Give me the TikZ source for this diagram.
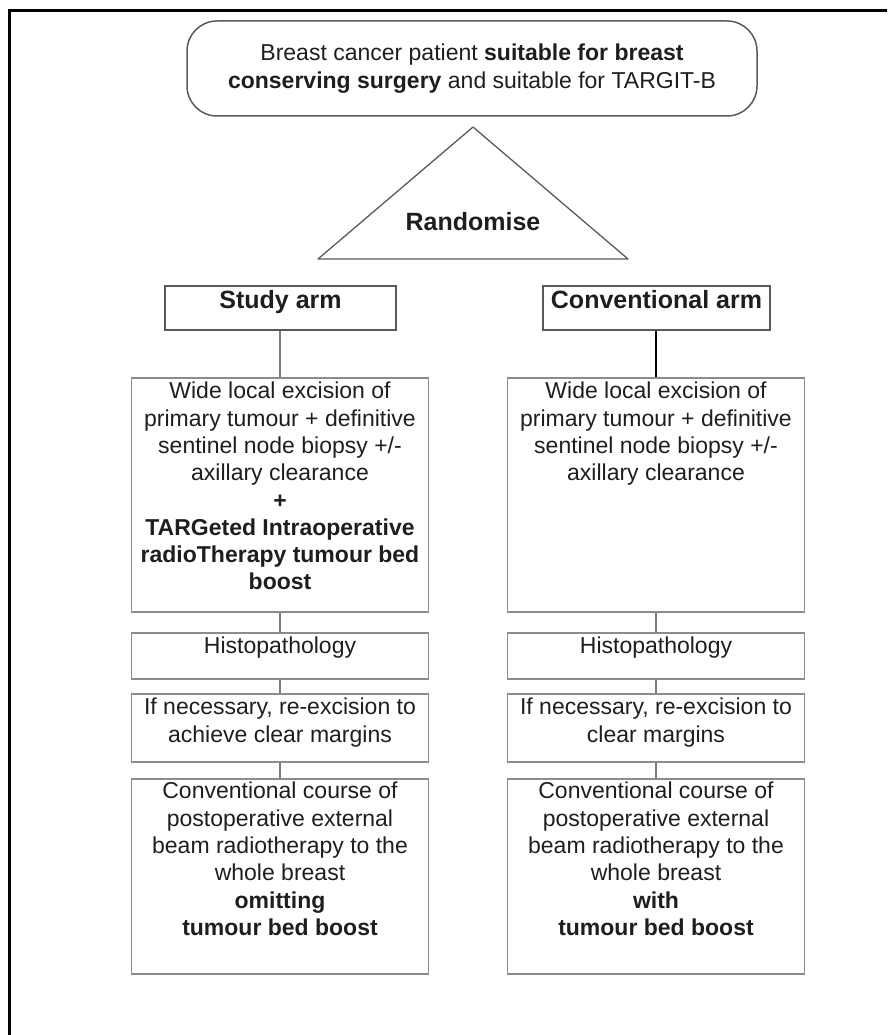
\documentclass[tikz,border=0pt]{standalone}
\usepackage{fontspec}
\setmainfont{Liberation Sans}
\usetikzlibrary{positioning}

\definecolor{boxgray}{HTML}{8C8C8C}
\definecolor{armgray}{HTML}{5A5A5A}
\definecolor{linkgray}{HTML}{7A7A7A}
\definecolor{inkgray}{HTML}{1E1E1E}

\tikzset{
  cellbox/.style={draw=boxgray, line width=1.5pt, minimum width=297pt, inner sep=0pt, anchor=north},
  armbox/.style={draw=armgray, line width=1.5pt, minimum height=44pt, inner sep=0pt, anchor=north},
  celltext/.style={inner sep=0pt, anchor=north, align=center, text=inkgray,
                   font=\fontsize{23}{27.3}\selectfont},
  armtext/.style={inner sep=0pt, anchor=north, text=inkgray,
                  font=\fontsize{25}{28}\selectfont\bfseries},
  link/.style={draw=linkgray, line width=1.5pt},
}

\begin{document}
\begin{tikzpicture}[x=1pt, y=-1pt]
    \useasboundingbox (0,0) rectangle (887,1035);
    \draw[line width=3pt] (9,1035) -- (9,11) -- (887,11);

    % patient and randomisation
    \node[draw=armgray, line width=1.5pt, rounded corners=30pt, minimum width=570pt,
          minimum height=95pt, align=center, text=inkgray,
          font=\fontsize{23}{27.3}\selectfont] (patient) at (472,68.5)
          {Breast cancer patient \textbf{suitable for breast}\\
           \textbf{conserving surgery} and suitable for TARGIT-B};
    \draw[draw=armgray, line width=1.3pt, line join=round] (318,259) -- (473,127) -- (628,259) -- cycle;
    \node[anchor=base, text=inkgray, font=\fontsize{25}{28}\selectfont\bfseries] (rand) at (473,230.5) {Randomise};

    % arm headings
    \node[armbox, minimum width=231pt] (studyarm) at (280.5,285) {};
    \node[armtext, below=5pt of studyarm.north] (studytxt) {Study arm};
    \node[armbox, minimum width=227pt] (convarm) at (656.5,285) {};
    \node[armtext, below=5pt of convarm.north] (convtxt) {Conventional arm};

    % study arm
    \node[cellbox, minimum height=234pt] (excL) at (280,377) {};
    \node[celltext, below=5pt of excL.north] (excLtxt) {Wide local excision of\\primary tumour + definitive\\sentinel node biopsy +/-\\axillary clearance\\\textbf{+}\\\textbf{TARGeted Intraoperative}\\\textbf{radioTherapy tumour bed}\\\textbf{boost}};
    \node[cellbox, minimum height=46pt] (histL) at (280,632) {};
    \node[celltext, below=5pt of histL.north] (histLtxt) {Histopathology};
    \node[cellbox, minimum height=68pt] (reexL) at (280,693) {};
    \node[celltext, below=5pt of reexL.north] (reexLtxt) {If necessary, re-excision to\\achieve clear margins};
    \node[cellbox, minimum height=195pt] (courseL) at (280,778) {};
    \node[celltext, below=4pt of courseL.north] (courseLtxt) {Conventional course of\\postoperative external\\beam radiotherapy to the\\whole breast\\\textbf{omitting}\\\textbf{tumour bed boost}};

    % conventional arm
    \node[cellbox, minimum height=234pt] (excR) at (656,377) {};
    \node[celltext, below=5pt of excR.north] (excRtxt) {Wide local excision of\\primary tumour + definitive\\sentinel node biopsy +/-\\axillary clearance};
    \node[cellbox, minimum height=46pt] (histR) at (656,632) {};
    \node[celltext, below=5pt of histR.north] (histRtxt) {Histopathology};
    \node[cellbox, minimum height=68pt] (reexR) at (656,693) {};
    \node[celltext, below=5pt of reexR.north] (reexRtxt) {If necessary, re-excision to\\clear margins};
    \node[cellbox, minimum height=195pt] (courseR) at (656,778) {};
    \node[celltext, below=4pt of courseR.north] (courseRtxt) {Conventional course of\\postoperative external\\beam radiotherapy to the\\whole breast\\\textbf{with}\\\textbf{tumour bed boost}};

    % connectors
    \draw[link] (studyarm.south -| excL.north) -- (excL.north);
    \draw[link, draw=black] (convarm.south -| excR.north) -- (excR.north);
    \draw[link] (excL.south) -- (histL.north);
    \draw[link] (histL.south) -- (reexL.north);
    \draw[link] (reexL.south) -- (courseL.north);
    \draw[link] (excR.south) -- (histR.north);
    \draw[link] (histR.south) -- (reexR.north);
    \draw[link] (reexR.south) -- (courseR.north);
    \end{tikzpicture}
\end{document}
